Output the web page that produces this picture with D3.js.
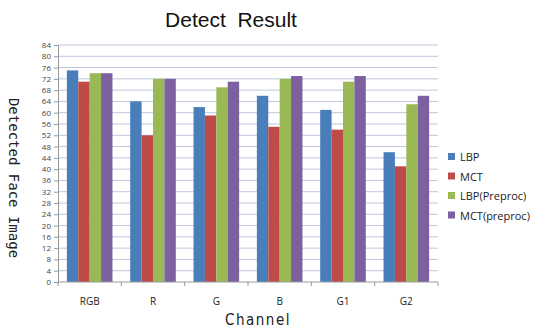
<!DOCTYPE html>
<html><head><meta charset="utf-8">
<script src="https://cdn.jsdelivr.net/npm/d3@7"></script>
<style>body{margin:0;background:#fff}</style>
</head><body>
<svg id="c" width="533" height="330"></svg>
<script>
const categories = ["RGB","R","G","B","G1","G2"];
const seriesNames = ["LBP","MCT","LBP(Preproc)","MCT(preproc)"];
const LBP = [75,64,62,66,61,46];
const MCT = [71,52,59,55,54,41];
const LBPPre = [74,72,69,72,71,63];
const MCTPre = [74,72,71,73,73,66];
const yTicks = d3.range(0,85,4);
const colors = ["#4a7ebb","#be4b48","#98b954","#7d60a0"];
const series = [LBP,MCT,LBPPre,MCTPre];

const svg = d3.select("#c");
const m = {l:58, r:438, t:45, b:282};
const x = d3.scaleBand().domain(categories).range([m.l,m.r]).paddingInner(0.28).paddingOuter(0.14);
const x1 = d3.scaleBand().domain(d3.range(4)).range([0,x.bandwidth()]);
const y = d3.scaleLinear().domain([0,84]).range([m.b,m.t]);

// gridlines
svg.append("g").selectAll("line").data(yTicks.filter(d=>d>0)).join("line")
  .attr("x1",m.l).attr("x2",m.r).attr("y1",d=>y(d)).attr("y2",d=>y(d))
  .attr("stroke","#bcc6dc").attr("stroke-width",1);

// bars
categories.forEach((c,i)=>{
  series.forEach((s,j)=>{
    svg.append("rect").attr("x",x(c)+x1(j)).attr("width",x1.bandwidth())
      .attr("y",y(s[i])).attr("height",y(0)-y(s[i])).attr("fill",colors[j]);
  });
});

// y axis
const ya = d3.axisLeft(y).tickValues(yTicks).tickSize(4).tickPadding(3);
const gy = svg.append("g").attr("transform",`translate(${m.l},0)`).call(ya);
gy.select(".domain").attr("stroke","#999");
gy.selectAll(".tick line").attr("stroke","#999");
gy.selectAll("text").attr("font-family","Open Sans, sans-serif").attr("font-size",8).attr("fill","#444");

// x axis
const gx = svg.append("g").attr("transform",`translate(0,${m.b})`);
gx.append("line").attr("x1",m.l).attr("x2",m.r).attr("stroke","#999");
const step = (m.r-m.l)/categories.length;
gx.selectAll("line.t").data(d3.range(categories.length+1)).join("line").attr("class","t")
  .attr("x1",d=>m.l+d*step).attr("x2",d=>m.l+d*step).attr("y1",0).attr("y2",4).attr("stroke","#999");
gx.selectAll("text").data(categories).join("text")
  .attr("x",d=>x(d)+x.bandwidth()/2).attr("y",23).attr("text-anchor","middle")
  .attr("font-family","Open Sans, sans-serif").attr("font-size",10).attr("fill","#222").text(d=>d);

// title
svg.append("text").attr("x",231).attr("y",27).attr("text-anchor","middle")
  .attr("font-family","Liberation Sans, Arial, sans-serif").attr("font-size",21).attr("fill","#111")
  .text("Detect  Result").style("white-space","pre");

// axis titles
svg.append("text").attr("transform","translate(9,178) rotate(90)").attr("text-anchor","middle")
  .attr("font-family","DejaVu Sans Mono, monospace").attr("font-size",14).attr("fill","#222")
  .text("Detected Face Image");
svg.append("text").attr("x",258).attr("y",325).attr("text-anchor","middle")
  .attr("font-family","DejaVu Sans Condensed, sans-serif").attr("font-size",15).attr("fill","#222")
  .attr("letter-spacing",1.5).text("Channel");

// legend
const lg = svg.append("g");
seriesNames.forEach((n,j)=>{
  const yy = 157 + j*19.5;
  lg.append("rect").attr("x",448).attr("y",yy-4).attr("width",7).attr("height",7).attr("fill",colors[j]);
  lg.append("text").attr("x",460).attr("y",yy+4).attr("font-family","Open Sans, sans-serif")
    .attr("font-size",11).attr("fill","#222").text(n);
});
</script>
</body></html>
